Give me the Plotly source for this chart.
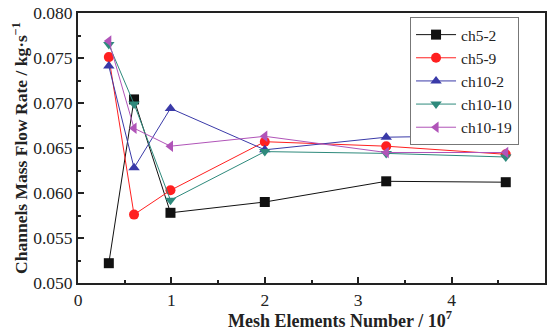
import plotly.graph_objects as go

mesh = [0.33, 0.60, 0.99, 2.0, 3.3, 4.58]
ch5_2 = [0.0522, 0.0704, 0.0578, 0.0590, 0.0613, 0.0612]
ch5_9 = [0.0751, 0.0576, 0.0603, 0.0657, 0.0652, 0.0643]
ch10_2 = [0.0741, 0.0628, 0.0694, 0.0648, 0.0662, 0.0664]
ch10_10 = [0.0765, 0.0699, 0.0592, 0.0646, 0.0644, 0.0640]
ch10_19 = [0.0769, 0.0672, 0.0652, 0.0663, 0.0645, 0.0645]

series = [
    ("ch5-2", ch5_2, "#111111", "square"),
    ("ch5-9", ch5_9, "#ff2020", "circle"),
    ("ch10-2", ch10_2, "#3a3aa8", "triangle-up"),
    ("ch10-10", ch10_10, "#2e8a7c", "triangle-down"),
    ("ch10-19", ch10_19, "#b054b8", "triangle-left"),
]

fig = go.Figure()
for name, vals, col, sym in series:
    fig.add_trace(go.Scatter(
        x=mesh, y=vals, name=name, mode="lines+markers",
        line=dict(color=col, width=1),
        marker=dict(symbol=sym, size=10, color=col),
    ))

font_family = "Liberation Serif, Times New Roman, serif"
fig.update_layout(
    width=549, height=332,
    margin=dict(l=78, r=4, t=13, b=49),
    paper_bgcolor="white", plot_bgcolor="white",
    font=dict(family=font_family, size=17, color="#222"),
    legend=dict(
        x=0.711, y=0.985, xanchor="left", yanchor="top",
        bordercolor="#777", borderwidth=1, bgcolor="white",
        font=dict(size=15.5, family=font_family),
        tracegroupgap=0, itemwidth=40,
    ),
    annotations=[dict(
        text="<b>Mesh Elements Number / 10<sup>7</sup></b>",
        xref="paper", yref="paper", x=0.561, y=-0.137,
        xanchor="center", yanchor="middle", showarrow=False,
        font=dict(size=18, family=font_family, color="#222"),
    )],
)
fig.update_xaxes(
    range=[0, 5], dtick=1, tick0=0, automargin=False,
    ticks="inside", ticklen=6, tickwidth=1.5, tickcolor="#222",
    minor=dict(dtick=0.5, ticks="inside", ticklen=3, tickcolor="#222"),
    showline=True, linecolor="#222", linewidth=2, mirror=True,
    showgrid=False, zeroline=False,
    tickfont=dict(size=17.5),
)
fig.update_yaxes(
    range=[0.050, 0.080], dtick=0.005, tick0=0.050, tickformat=".3f", automargin=False,
    ticks="inside", ticklen=6, tickwidth=1.5, tickcolor="#222",
    minor=dict(dtick=0.0025, ticks="inside", ticklen=3, tickcolor="#222"),
    showline=True, linecolor="#222", linewidth=2, mirror=True,
    showgrid=False, zeroline=False,
    title=dict(text="<b>Channels Mass Flow Rate / kg·s<sup>−1</sup></b>", font=dict(size=17.5), standoff=1),
    tickfont=dict(size=17.5),
)
fig.write_html("out.html", config={"displayModeBar": False},
               post_script="document.body.style.margin='0';")
